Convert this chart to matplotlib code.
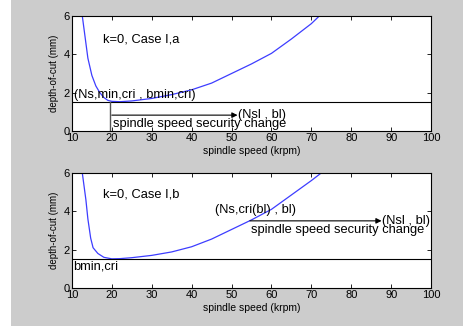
import matplotlib
matplotlib.use('Agg')
import matplotlib.pyplot as plt
from matplotlib.patches import Rectangle

# stability-limit curve (spindle speed in krpm, depth-of-cut in mm)
speed_a = [12.6, 13.3, 14.0, 15.0, 16.0, 17.0, 18.0, 19.0, 20.0, 22.0, 25.0, 30.0,
           35.0, 40.0, 45.0, 50.0, 55.0, 60.0, 65.0, 70.0, 72.0]
depth_a = [6.0, 4.9, 3.8, 2.9, 2.35, 2.0, 1.75, 1.6, 1.55, 1.53, 1.57, 1.7,
           1.9, 2.15, 2.5, 3.0, 3.5, 4.05, 4.8, 5.6, 6.0]
speed_b = [12.6, 13.5, 14.0, 14.7, 15.3, 16.5, 18.0, 20.0, 22.0, 25.0, 30.0,
           35.0, 40.0, 45.0, 50.0, 55.0, 60.0, 65.0, 70.0, 72.5]
depth_b = [6.0, 4.6, 3.6, 2.6, 2.1, 1.8, 1.6, 1.52, 1.53, 1.58, 1.7,
           1.88, 2.15, 2.55, 3.05, 3.55, 4.1, 4.85, 5.6, 6.0]

b_min_cri = 1.5
ns_min_cri = 19.5
arrow_a = (20.0, 51.5, 0.83)
arrow_b = (54.6, 87.6, 3.5)

xticks = [10, 20, 30, 40, 50, 60, 70, 80, 90, 100]
yticks = [0, 2, 4, 6]

fig = plt.figure(figsize=(4.64, 3.26), dpi=100)
fig.patch.set_facecolor('#cccccc')
fig.patches.append(Rectangle((0, 0), 11 / 464, 1, transform=fig.transFigure,
                             facecolor='white', edgecolor='none', zorder=0))

plt.rcParams['font.family'] = ['Liberation Sans', 'DejaVu Sans']
fs = 9.3


def setup(ax):
    ax.set_xlim(10, 100)
    ax.set_ylim(0, 6)
    ax.set_xticks(xticks)
    ax.set_yticks(yticks)
    ax.tick_params(direction='in', top=True, right=True, labelsize=8,
                   length=3, width=0.6, pad=1.5)
    for s in ax.spines.values():
        s.set_linewidth(0.8)
    ax.set_xlabel('spindle speed (krpm)', fontsize=7.5, labelpad=2)
    ax.set_ylabel('depth-of-cut (mm)', fontsize=7, labelpad=3)


ax1 = fig.add_axes([0.155, 0.598, 0.774, 0.353])
setup(ax1)
ax1.plot(speed_a, depth_a, color='#3d3dff', lw=0.9)
ax1.axhline(b_min_cri, color='black', lw=0.8)
ax1.plot([ns_min_cri, ns_min_cri], [0, b_min_cri], color='#555555', lw=1.0)
ax1.annotate('', xy=(arrow_a[1], arrow_a[2]), xytext=(arrow_a[0], arrow_a[2]),
             arrowprops=dict(arrowstyle='-|>', color='black', lw=0.8,
                             mutation_scale=8, shrinkA=0, shrinkB=0))
ax1.text(arrow_a[1], arrow_a[2], '(Nsl , bl)', fontsize=fs, va='center', ha='left')
ax1.text(20.3, 0.05, 'spindle speed security change', fontsize=fs, va='bottom')
ax1.text(10.4, 1.55, '(Ns,min,cri , bmin,cri)', fontsize=fs, va='bottom')
ax1.text(17.8, 4.75, 'k=0, Case I,a', fontsize=fs, va='center')

ax2 = fig.add_axes([0.155, 0.1166, 0.774, 0.353])
setup(ax2)
ax2.plot(speed_b, depth_b, color='#3d3dff', lw=0.9)
ax2.axhline(b_min_cri, color='black', lw=0.8)
ax2.text(10.3, 1.45, 'bmin,cri', fontsize=fs, va='top')
ax2.annotate('', xy=(arrow_b[1], arrow_b[2]), xytext=(arrow_b[0], arrow_b[2]),
             arrowprops=dict(arrowstyle='-|>', color='black', lw=0.8,
                             mutation_scale=8, shrinkA=0, shrinkB=0))
ax2.text(arrow_b[1], arrow_b[2], '(Nsl , bl)', fontsize=fs, va='center', ha='left')
ax2.text(45.8, 3.75, '(Ns,cri(bl) , bl)', fontsize=fs, va='bottom')
ax2.text(55.0, 2.7, 'spindle speed security change', fontsize=fs, va='bottom')
ax2.text(17.8, 4.9, 'k=0, Case I,b', fontsize=fs, va='center')

plt.savefig('out.png', dpi=100, facecolor=fig.get_facecolor())
